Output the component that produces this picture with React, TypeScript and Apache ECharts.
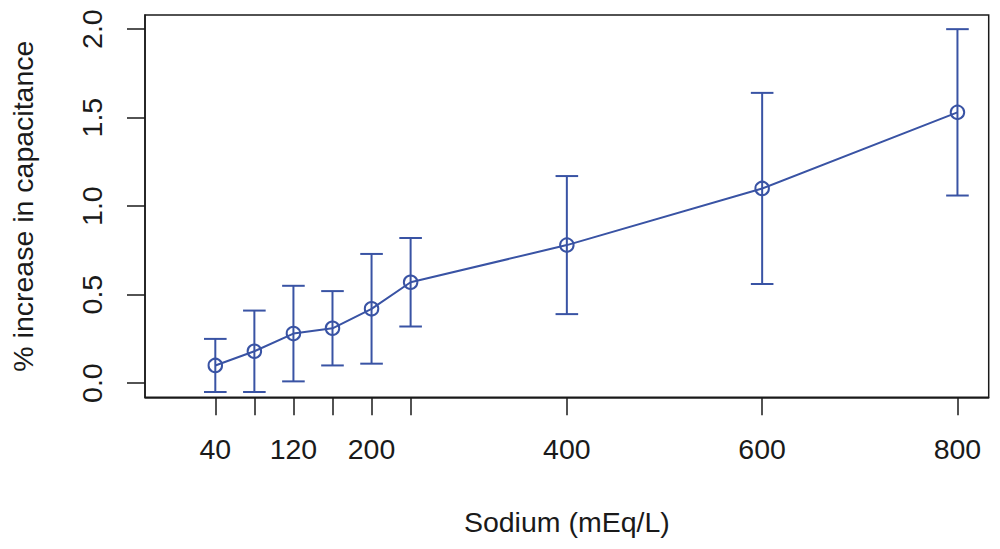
import React, { useEffect, useRef } from "react";
import * as echarts from "echarts";

const sodium = [40, 80, 120, 160, 200, 240, 400, 600, 800];
const meanIncrease = [0.1, 0.18, 0.28, 0.31, 0.42, 0.57, 0.78, 1.1, 1.53];
const upperBound = [0.25, 0.41, 0.55, 0.52, 0.73, 0.82, 1.17, 1.64, 2.0];
const lowerBound = [-0.05, -0.05, 0.01, 0.1, 0.11, 0.32, 0.39, 0.56, 1.06];
const xTickLabels = [40, 120, 200, 400, 600, 800];
const yTickLabels = [0, 0.5, 1, 1.5, 2];

const BLUE = "#3953a4";
const FONT = "Liberation Sans, Arial, Helvetica, sans-serif";
const FS = 28.5;

export default function App() {
  const ref = useRef<HTMLDivElement>(null);

  useEffect(() => {
    if (!ref.current) return;
    const chart = echarts.init(ref.current, undefined, { renderer: "svg" });

    const errData = sodium.map((x, i) => [x, lowerBound[i], upperBound[i]]);
    const lineData = sodium.map((x, i) => [x, meanIncrease[i]]);

    chart.setOption({
      animation: false,
      backgroundColor: "#ffffff",
      textStyle: { fontFamily: FONT },
      grid: {
        left: 145,
        right: 11.3,
        top: 15,
        bottom: 151.7,
        show: true,
        borderColor: "#1a1a1a",
        borderWidth: 1.5,
        backgroundColor: "transparent",
      },
      xAxis: {
        type: "value",
        min: -32,
        max: 832,
        name: "Sodium (mEq/L)",
        nameLocation: "middle",
        nameGap: 125,
        nameTextStyle: {
          fontSize: FS,
          color: "#1a1a1a",
          fontFamily: FONT,
          verticalAlign: "middle",
        },
        splitLine: { show: false },
        axisLine: { show: true, onZero: false, lineStyle: { color: "#1a1a1a", width: 1.5 } },
        axisTick: {
          show: true,
          length: 18,
          inside: false,
          customValues: sodium,
          lineStyle: { color: "#1a1a1a", width: 1.5 },
        },
        axisLabel: {
          show: true,
          customValues: xTickLabels,
          margin: 52,
          fontSize: FS,
          color: "#1a1a1a",
          fontFamily: FONT,
          verticalAlign: "middle",
          formatter: (v: number) => String(v),
        },
      },
      yAxis: {
        type: "value",
        min: -0.08,
        max: 2.08,
        name: "% increase in capacitance",
        nameLocation: "middle",
        nameGap: 122,
        nameRotate: 90,
        nameTextStyle: {
          fontSize: FS,
          color: "#1a1a1a",
          fontFamily: FONT,
          verticalAlign: "middle",
        },
        splitLine: { show: false },
        axisLine: { show: true, onZero: false, lineStyle: { color: "#1a1a1a", width: 1.5 } },
        axisTick: {
          show: true,
          length: 18,
          inside: false,
          customValues: yTickLabels,
          lineStyle: { color: "#1a1a1a", width: 1.5 },
        },
        axisLabel: {
          show: true,
          customValues: yTickLabels,
          rotate: 90,
          margin: 53,
          fontSize: FS,
          color: "#1a1a1a",
          fontFamily: FONT,
          align: "center",
          verticalAlign: "middle",
          formatter: (v: number) => v.toFixed(1),
        },
      },
      series: [
        {
          type: "custom",
          data: errData,
          encode: { x: 0, y: [1, 2] },
          renderItem: (params: any, api: any) => {
            const x = api.value(0);
            const lo = api.coord([x, api.value(1)]);
            const hi = api.coord([x, api.value(2)]);
            const hw = 11.3;
            const style = { stroke: BLUE, lineWidth: 2 };
            return {
              type: "group",
              children: [
                { type: "line", shape: { x1: lo[0], y1: lo[1], x2: hi[0], y2: hi[1] }, style },
                { type: "line", shape: { x1: hi[0] - hw, y1: hi[1], x2: hi[0] + hw, y2: hi[1] }, style },
                { type: "line", shape: { x1: lo[0] - hw, y1: lo[1], x2: lo[0] + hw, y2: lo[1] }, style },
              ],
            };
          },
          z: 2,
        },
        {
          type: "line",
          data: lineData,
          symbol: "circle",
          symbolSize: 13.5,
          showSymbol: true,
          lineStyle: { color: BLUE, width: 2 },
          itemStyle: { color: "transparent", borderColor: BLUE, borderWidth: 2 },
          z: 3,
        },
      ],
    });

    return () => {
      chart.dispose();
    };
  }, []);

  return (
    <div
      ref={ref}
      style={{ position: "fixed", left: 0, top: 0, width: 1000, height: 549 }}
    />
  );
}
